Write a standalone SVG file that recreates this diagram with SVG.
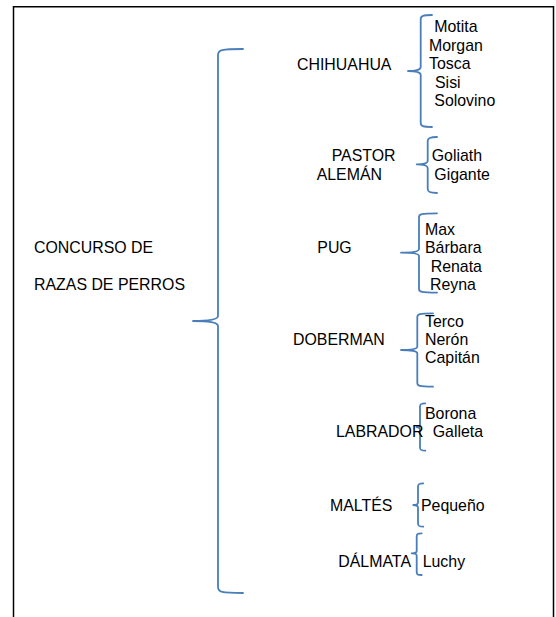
<svg xmlns="http://www.w3.org/2000/svg" width="556" height="617" viewBox="0 0 556 617">
<style>
.t{font-family:"Liberation Sans",Arial,sans-serif;font-size:15.9px;fill:#000}
.b{fill:none;stroke:#4a7ebb;stroke-width:1.8;stroke-linecap:round;stroke-linejoin:round}
.f{fill:none;stroke:#000;stroke-width:1.5}
</style>
<rect width="556" height="617" fill="#fff"/>
<g id="frame">
<path class="f" d="M13.5,617 L13.5,6.8 L553.5,6.8 L553.5,617" stroke="#222"/>
</g>
<g id="connectors">
<path class="b" d="M243,49 C221,49 218,50 218,55 L218,316 Q218,321 193,321 Q218,321 218,326 L218,587 C218,592 221,593 243,593"/>
<path class="b" d="M432,15 C423,15 420.7,16 420.7,19 L420.7,67 Q420.7,71 408,71 Q420.7,71 420.7,75 L420.7,123 C420.7,126 423,127 432,127"/>
<path class="b" d="M437,137 C430,137 427.7,138 427.7,141 L427.7,161 Q427.7,164.3 416.7,164.3 Q427.7,164.3 427.7,168 L427.7,189 C427.7,192 430,193 437,193"/>
<path class="b" d="M437,213.3 C421,213.3 419,214 419,217 L419,249 Q419,252.7 401,252.7 Q419,252.7 419,256 L419,289 C419,292 421,292.7 437,292.7"/>
<path class="b" d="M433,313.3 C419,313.3 417.3,314 417.3,317 L417.3,346.5 Q417.3,350 401,350 Q417.3,350 417.3,353.5 L417.3,383 C417.3,386 419,386.7 433,386.7"/>
<path class="b" d="M425.3,403.3 C421,403.3 420,404 420,406.5 L420,424.5 Q420,427 416.5,427 Q420,427 420,429.5 L420,447.5 C420,450 421,450.7 425.3,450.7"/>
<path class="b" d="M423.3,483.3 C419,483.3 418,484 418,486.5 L418,502.5 Q418,505 413.3,505 Q418,505 418,507.5 L418,523.5 C418,526 419,526.7 423.3,526.7"/>
<path class="b" d="M421.7,533.3 C417.5,533.3 416.7,534 416.7,536.5 L416.7,551 Q416.7,553.3 411.7,553.3 Q416.7,553.3 416.7,555.5 L416.7,572 C416.7,574.5 417.5,575 421.7,575"/>
</g>
<g id="root">
<text class="t" x="34" y="253">CONCURSO DE</text>
<text class="t" x="34" y="290">RAZAS DE PERROS</text>
</g>
<g id="chihuahua">
<text class="t" x="297" y="70">CHIHUAHUA</text>
<text class="t" x="434.3" y="32">Motita</text>
<text class="t" x="429" y="50.5">Morgan</text>
<text class="t" x="429" y="69">Tosca</text>
<text class="t" x="435" y="87.5">Sisi</text>
<text class="t" x="434.3" y="106">Solovino</text>
</g>
<g id="pastor">
<text class="t" x="331.7" y="161">PASTOR</text>
<text class="t" x="316.7" y="180">ALEMÁN</text>
<text class="t" x="431.7" y="161">Goliath</text>
<text class="t" x="434.3" y="180">Gigante</text>
</g>
<g id="pug">
<text class="t" x="317.3" y="253.3">PUG</text>
<text class="t" x="425" y="235">Max</text>
<text class="t" x="425" y="253.3">Bárbara</text>
<text class="t" x="430.7" y="271.5">Renata</text>
<text class="t" x="430" y="289.5">Reyna</text>
</g>
<g id="doberman">
<text class="t" x="293" y="345">DOBERMAN</text>
<text class="t" x="425" y="326.7">Terco</text>
<text class="t" x="425" y="345">Nerón</text>
<text class="t" x="425" y="363.3">Capitán</text>
</g>
<g id="labrador">
<text class="t" x="336" y="437.3">LABRADOR</text>
<text class="t" x="425" y="419">Borona</text>
<text class="t" x="432.7" y="437.3">Galleta</text>
</g>
<g id="maltes">
<text class="t" x="330" y="511">MALTÉS</text>
<text class="t" x="421" y="511">Pequeño</text>
</g>
<g id="dalmata">
<text class="t" x="338.3" y="566.7">DÁLMATA</text>
<text class="t" x="422.7" y="566.7">Luchy</text>
</g>
</svg>
